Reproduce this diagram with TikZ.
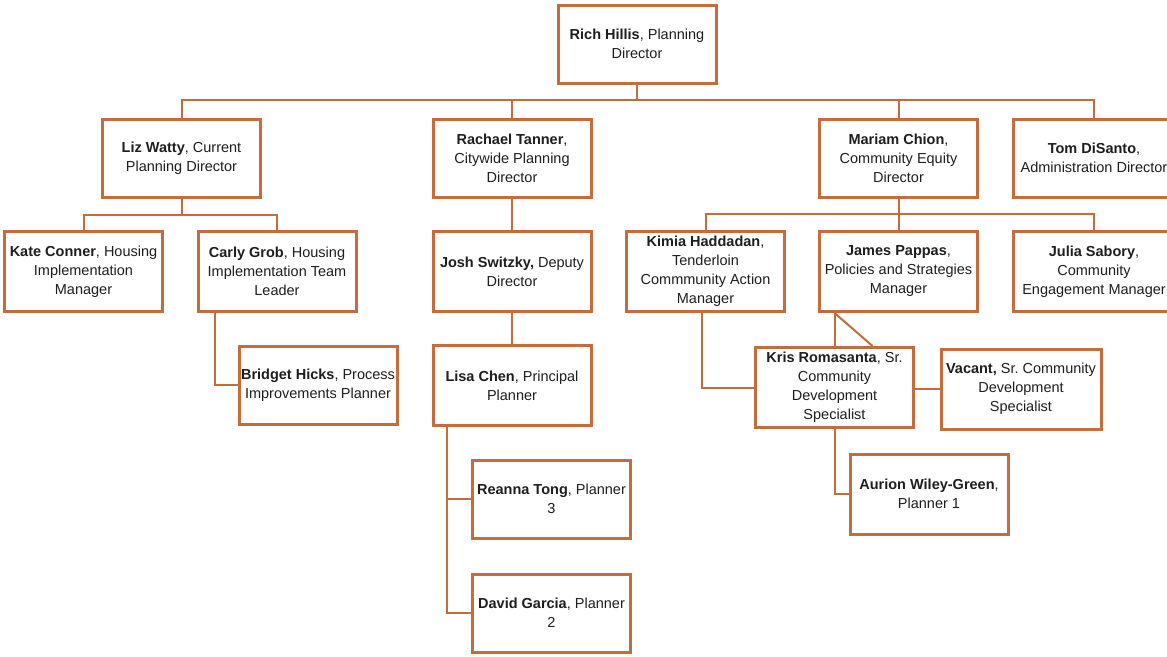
\documentclass[tikz,border=0pt]{standalone}
\usepackage{fontspec}
\setmainfont{Liberation Sans}
\frenchspacing
\definecolor{orgline}{RGB}{196,108,60}
\definecolor{orgtext}{RGB}{30,30,30}
\begin{document}
\begin{tikzpicture}[x=1pt,y=-1pt,
  box/.style={draw=orgline,line width=3pt,fill=white,minimum width=158pt,minimum height=78pt,
    align=center,inner sep=2pt,text=orgtext,font=\fontsize{14.5}{19}\selectfont},
  link/.style={draw=orgline,line width=2pt}]
  \useasboundingbox[fill=white] (0,0) rectangle (1167,656);
  % top
  \node[box] (rich) at (637,44) {\textbf{Rich Hillis}, Planning\\Director};
  \node[box] (liz) at (181.5,158) {\textbf{Liz Watty}, Current\\Planning Director};
  \node[box] (rachael) at (512,158) {\textbf{Rachael Tanner},\\Citywide Planning\\Director};
  \node[box] (mariam) at (898.5,158) {\textbf{Mariam Chion},\\Community Equity\\Director};
  \node[box,minimum width=162pt] (tom) at (1094,158) {\textbf{Tom DiSanto},\\Administration Director};
  % current planning
  \node[box,minimum height=80pt] (kate) at (83.5,271.5) {\textbf{Kate Conner}, Housing\\Implementation\\Manager};
  \node[box,minimum height=80pt] (carly) at (277,271.5) {\textbf{Carly Grob}, Housing\\Implementation Team\\Leader};
  \node[box] (bridget) at (318,385) {\textbf{Bridget Hicks}, Process\\Improvements Planner};
  % citywide
  \node[box,minimum height=80pt] (josh) at (512,271.5) {\textbf{Josh Switzky,} Deputy\\Director};
  \node[box,minimum height=80pt] (lisa) at (512,385.5) {\textbf{Lisa Chen}, Principal\\Planner};
  \node[box] (reanna) at (551.5,499) {\textbf{Reanna Tong}, Planner\\3};
  \node[box] (david) at (551.5,613) {\textbf{David Garcia}, Planner\\2};
  % community equity
  \node[box,minimum height=80pt] (kimia) at (705.5,271.5) {\textbf{Kimia Haddadan},\\Tenderloin\\Commmunity Action\\Manager};
  \node[box,minimum height=80pt] (james) at (898.5,271.5) {\textbf{James Pappas},\\Policies and Strategies\\Manager};
  \node[box,minimum width=162pt,minimum height=80pt] (julia) at (1094,271.5) {\textbf{Julia Sabory},\\Community\\Engagement Manager};
  \node[box,minimum height=80pt] (kris) at (834.5,387.5) {\textbf{Kris Romasanta}, Sr.\\Community\\Development\\Specialist};
  \node[box,minimum width=160pt,minimum height=80pt] (vacant) at (1021,389) {\textbf{Vacant,} Sr. Community\\Development\\Specialist};
  \node[box,minimum height=80pt] (aurion) at (929,494) {\textbf{Aurion Wiley-Green},\\Planner 1};
  % buses
  \coordinate (topbus) at (637,100);
  \coordinate (lizbus) at (181.5,215);
  \coordinate (marbus) at (898.5,214);
  \draw[link] (rich.south) -- (topbus);
  \draw[link] (liz.north) |- (topbus) -| (tom.north);
  \draw[link] (rachael.north) -- (rachael.north|-topbus);
  \draw[link] (mariam.north) -- (mariam.north|-topbus);
  \draw[link] (liz.south) -- (lizbus);
  \draw[link] (kate.north) |- (lizbus) -| (carly.north);
  \draw[link] ([xshift=-62pt]carly.south) |- (bridget.west);
  \draw[link] (rachael.south) -- (josh.north);
  \draw[link] (josh.south) -- (lisa.north);
  \draw[link] ([xshift=-65pt]lisa.south) |- (reanna.west);
  \draw[link] ([xshift=-65pt]lisa.south) |- (david.west);
  \draw[link] (mariam.south) -- (marbus);
  \draw[link] (kimia.north) |- (marbus) -| (julia.north);
  \draw[link] (james.north) -- (james.north|-marbus);
  \draw[link] ([xshift=-4pt]kimia.south) |- (kris.west);
  \draw[link] (kris.north|-james.south) -- (kris.north);
  \draw[link] (kris.north|-james.south) -- ([xshift=38pt]kris.north);
  \draw[link] (vacant.west-|kris.east) -- (vacant.west);
  \draw[link] (kris.south) |- (aurion.west);
\end{tikzpicture}
\end{document}
